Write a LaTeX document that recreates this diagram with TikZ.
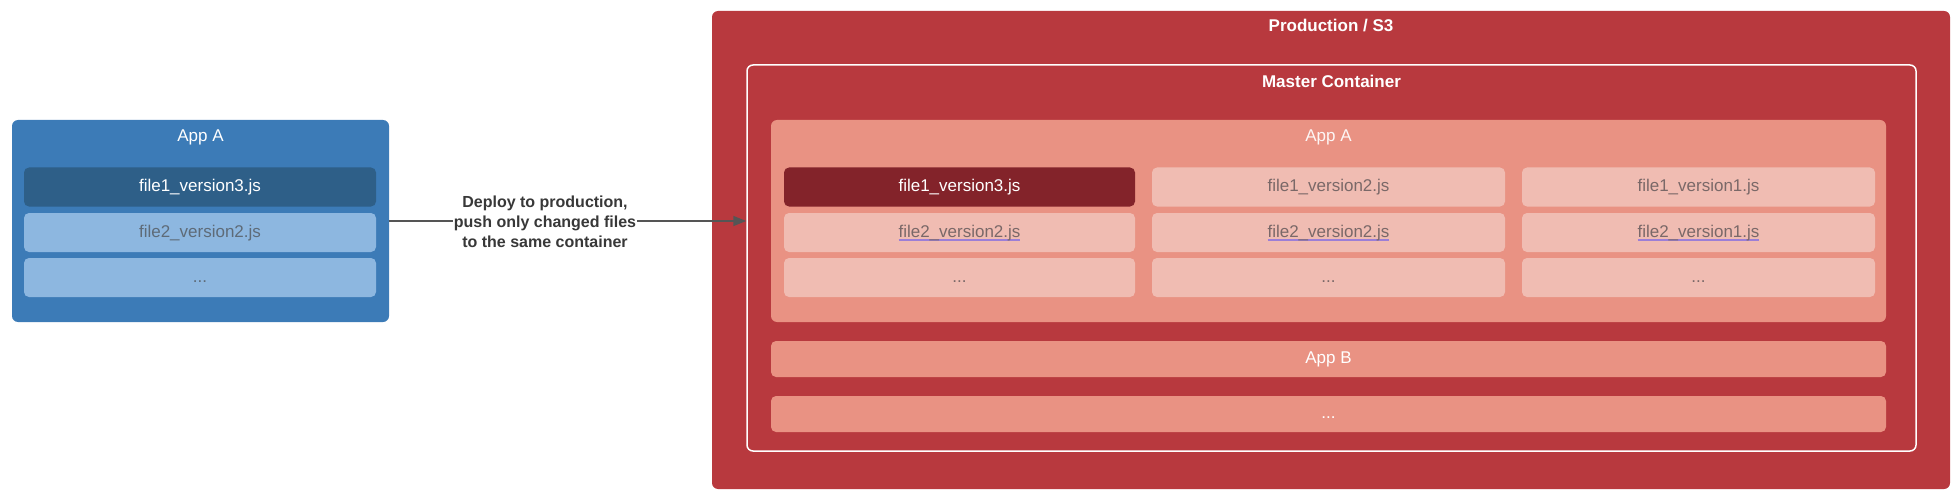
\documentclass[tikz,border=0pt]{standalone}
\usepackage{fontspec}
\setmainfont{Liberation Sans}
\usetikzlibrary{arrows.meta}

\definecolor{appblue}{HTML}{3C7BB7}
\definecolor{darkblue}{HTML}{2E5F88}
\definecolor{lightblue}{HTML}{8DB7E0}
\definecolor{bluetext}{HTML}{5E6B78}
\definecolor{prodred}{HTML}{B8393E}
\definecolor{salmon}{HTML}{E99283}
\definecolor{pinkrow}{HTML}{F0BCB2}
\definecolor{darkred}{HTML}{83232A}
\definecolor{pinktext}{HTML}{7A6868}
\definecolor{spell}{HTML}{9C7FD6}
\definecolor{arrowgray}{HTML}{555555}

% spell-check style underline under a file name
\newcommand\spellul[1]{\setbox0\hbox{#1}\rlap{\color{spell}\rule[-3.5pt]{\wd0}{1.5pt}}\box0}
\newcommand\fsize{\fontsize{17}{20}\selectfont}

\begin{document}
\begin{tikzpicture}[x=1pt, y=-1pt,
  box/.style={rounded corners=6pt, inner sep=0pt},
  filebox/.style={rounded corners=5pt, inner sep=0pt, minimum height=39pt, font=\fsize,
    text height=12.5pt, text depth=3.5pt},
  title/.style={inner sep=0pt, font=\fsize, white},
  btitle/.style={inner sep=0pt, font=\fsize\bfseries, white}]
  \useasboundingbox (0,0) rectangle (1960,500);

  % local copy
  \node[box, fill=appblue, minimum width=377pt, minimum height=202pt] (appl) at (200.5,221) {};
  \node[title] (appltitle) at (200.5,137) {App A};
  \node[filebox, fill=darkblue, text=white, minimum width=352pt] (lf1) at (200,187) {file1\_version3.js};
  \node[filebox, fill=lightblue, text=bluetext, minimum width=352pt] (lf2) at (200,232.5) {file2\_version2.js};
  \node[filebox, fill=lightblue, text=bluetext, minimum width=352pt] (lf3) at (200,277.5) {...};

  % production
  \node[box, fill=prodred, minimum width=1238pt, minimum height=478pt] (prod) at (1331,250) {};
  \node[btitle] (prodtitle) at (1331,26) {Production / S3};
  \node[box, draw=white, line width=1.5pt, minimum width=1169pt, minimum height=386pt] (master) at (1331.5,258) {};
  \node[btitle] (mastertitle) at (1331.5,81) {Master Container};
  \node[box, fill=salmon, minimum width=1115pt, minimum height=202pt] (appa) at (1328.5,221) {};
  \node[title, text=white!92!salmon] (appatitle) at (1328.5,137) {App A};

  \node[filebox, fill=darkred, text=white, minimum width=351pt] (c1r1) at (959.5,187) {file1\_version3.js};
  \node[filebox, fill=pinkrow, text=pinktext, minimum width=351pt] (c1r2) at (959.5,232.5) {\spellul{file2\_version2.js}};
  \node[filebox, fill=pinkrow, text=pinktext, minimum width=351pt] (c1r3) at (959.5,277.5) {...};
  \node[filebox, fill=pinkrow, text=pinktext, minimum width=353pt] (c2r1) at (1328.5,187) {file1\_version2.js};
  \node[filebox, fill=pinkrow, text=pinktext, minimum width=353pt] (c2r2) at (1328.5,232.5) {\spellul{file2\_version2.js}};
  \node[filebox, fill=pinkrow, text=pinktext, minimum width=353pt] (c2r3) at (1328.5,277.5) {...};
  \node[filebox, fill=pinkrow, text=pinktext, minimum width=353pt] (c3r1) at (1698.5,187) {file1\_version1.js};
  \node[filebox, fill=pinkrow, text=pinktext, minimum width=353pt] (c3r2) at (1698.5,232.5) {\spellul{file2\_version1.js}};
  \node[filebox, fill=pinkrow, text=pinktext, minimum width=353pt] (c3r3) at (1698.5,277.5) {...};

  \node[filebox, fill=salmon, text=white, minimum width=1115pt, minimum height=36pt] (appb) at (1328.5,359) {App B};
  \node[filebox, fill=salmon, text=white, minimum width=1115pt, minimum height=36pt] (appmore) at (1328.5,414) {...};

  % deploy arrow
  \draw[arrowgray, line width=1.5pt, -{Triangle[length=13pt,width=10pt]}] (appl.east) -- (appl.east -| master.west);
  \node[fill=white, inner sep=1pt, align=center, text=black!78,
        font=\fontsize{16}{20}\selectfont\bfseries] (deploy) at (545,222)
    {Deploy to production,\\push only changed files\\to the same container};
\end{tikzpicture}
\end{document}
